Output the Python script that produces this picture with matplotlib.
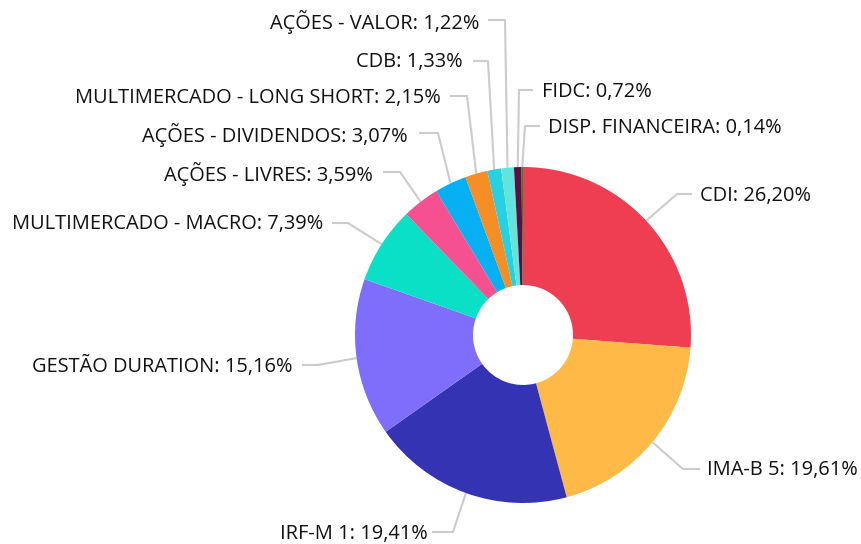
import matplotlib
matplotlib.use("Agg")
import matplotlib.pyplot as plt
import numpy as np

# ---- data ----
categories = ["CDI", "IMA-B 5", "IRF-M 1", "GESTÃO DURATION", "MULTIMERCADO - MACRO",
              "AÇÕES - LIVRES", "AÇÕES - DIVIDENDOS", "MULTIMERCADO - LONG SHORT",
              "CDB", "AÇÕES - VALOR", "FIDC", "DISP. FINANCEIRA"]
values = [26.20, 19.61, 19.41, 15.16, 7.39, 3.59, 3.07, 2.15, 1.33, 1.22, 0.72, 0.14]
value_labels = ["26,20%", "19,61%", "19,41%", "15,16%", "7,39%", "3,59%", "3,07%",
                "2,15%", "1,33%", "1,22%", "0,72%", "0,14%"]

# ---- style ----
colors = ["#ef3e52", "#ffb946", "#3333b4", "#7f6dfb", "#09e0c6", "#f5508f",
          "#06b0f2", "#f68e26", "#26d2e2", "#62e4dc", "#5b1140", "#1e8a3a"]

# label layout in pixel coordinates: (line y, bend x, line end x, text x, ha)
label_layout = [
    (194, 677, 692, 700, "left"),
    (469, 683, 700, 707, "left"),
    (532, 453, 432, 428, "right"),
    (365, 318, 302, 293, "right"),
    (223, 348, 332, 323, "right"),
    (172, 400, 383, 373, "right"),
    (133, 438, 419, 408, "right"),
    (96, 467, 450, 441, "right"),
    (61, 488, 473, 463, "right"),
    (20, 505, 488, 479, "right"),
    (90, 519, 533, 542, "left"),
    (126, 525, 540, 548, "left"),
]

W, H = 861, 544
cx, cy, R, r_in = 523, 335, 168, 50

fig = plt.figure(figsize=(W / 100, H / 100), dpi=100)
ax = fig.add_axes([0, 0, 1, 1])
ax.set_xlim(0, W)
ax.set_ylim(H, 0)
ax.set_aspect("equal")
ax.axis("off")

wedges, _ = ax.pie(values, colors=colors, startangle=-90, counterclock=True,
                   center=(cx, cy), radius=R, wedgeprops=dict(width=R - r_in, linewidth=0))
ax.set_xlim(0, W)
ax.set_ylim(H, 0)

for w, cat, vl, lay in zip(wedges, categories, value_labels, label_layout):
    ly, bx, ex, tx, ha = lay
    mid = np.deg2rad((w.theta1 + w.theta2) / 2)
    px = cx + R * np.cos(mid)
    py = cy + R * np.sin(mid)
    ax.plot([px, bx, ex], [py, ly, ly], color="#cccccc", lw=1.5, solid_capstyle="butt", zorder=0)
    ax.text(tx, ly + 1.5, f"{cat}: {vl}", ha=ha, va="center", fontsize=14.4,
            family=["Open Sans", "DejaVu Sans"], color="#111111")

fig.savefig("out.png", dpi=100)
